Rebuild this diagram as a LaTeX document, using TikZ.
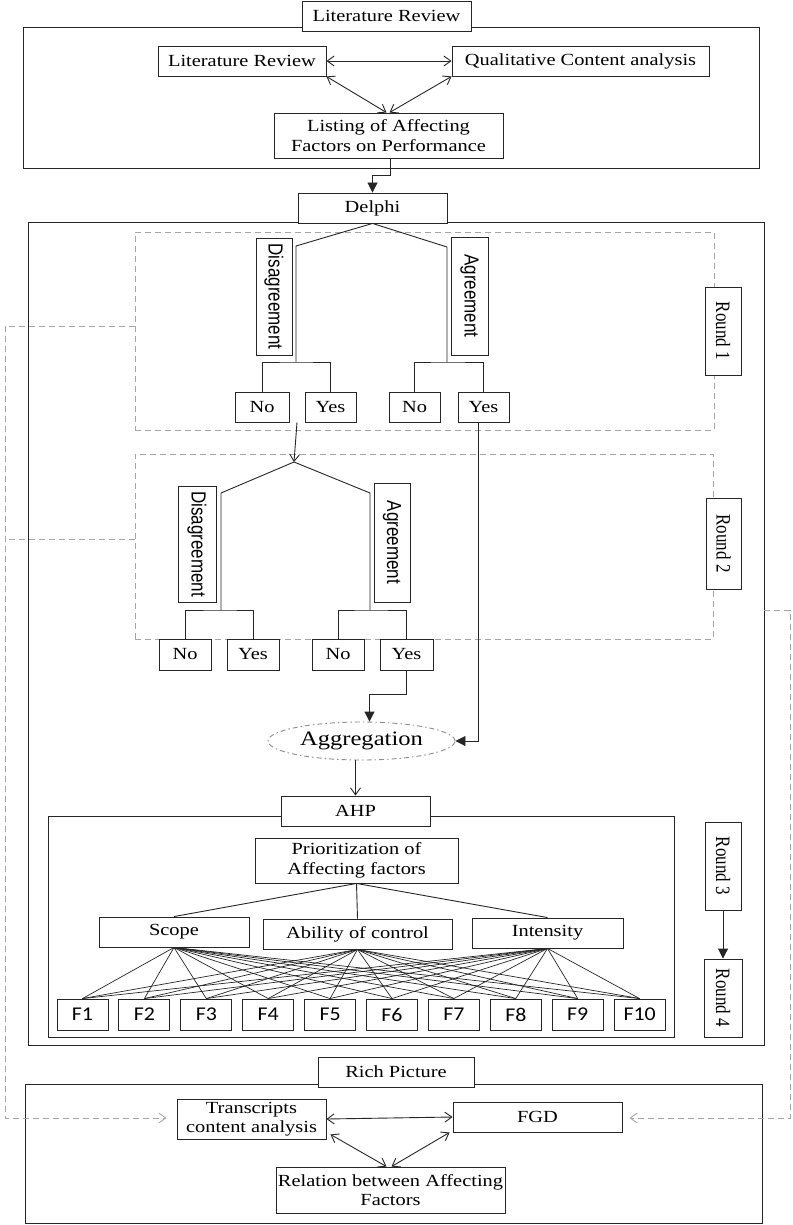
\documentclass[tikz,border=0pt]{standalone}
\usepackage{graphicx}
\usepackage{fontspec}
\setmainfont{Liberation Serif}[FakeStretch=1.2]
\newfontfamily\rotserif{Liberation Serif}
\newfontfamily\rotsans{Liberation Sans}
\newfontfamily\fsans{Carlito}[FakeStretch=1.12]
\usepackage{tikz}
\usetikzlibrary{calc}
\usetikzlibrary{arrows.meta,shapes.geometric}

\newcommand{\tallx}[1]{\scalebox{1}[1.2]{#1}}

\begin{document}
\begin{tikzpicture}[x=1pt,y=-1pt,
  font=\fontsize{17}{19.5}\selectfont,
  frame/.style={draw=black!85,line width=0.9pt,inner sep=0pt},
  box/.style={draw=black!85,line width=0.9pt,fill=white,inner sep=0pt,align=center},
  vsans/.style={box,rotate=-90,font=\rotsans\fontsize{17}{19}\selectfont},
  vserif/.style={box,rotate=-90,font=\rotserif\fontsize{17}{19}\selectfont},
  fbox/.style={box,minimum width=51pt,minimum height=31pt,font=\fsans\fontsize{19.5}{21}\selectfont},
  roundbox/.style={draw=black!35,line width=0.9pt,dash pattern=on 6pt off 4pt,inner sep=0pt},
  aggnode/.style={ellipse,draw=black!45,line width=0.9pt,dash pattern=on 5pt off 3pt on 1.5pt off 3pt,
    minimum width=187pt,minimum height=38pt,inner sep=0pt,font=\fontsize{20.5}{24}\selectfont},
  link/.style={draw=black!85,line width=0.9pt},
  openarrow/.style={-{Straight Barb[length=7pt,width=10pt]}},
  fillarrow/.style={-{Triangle[length=10pt,width=10pt]}},
  dlink/.style={link,{Straight Barb[length=7pt,width=10pt]}-{Straight Barb[length=7pt,width=10pt]}},
  dashlink/.style={draw=black!35,line width=0.9pt,dash pattern=on 6pt off 4pt}]
\useasboundingbox (0,0) rectangle (792,1225);

% Literature review block
\node[frame,minimum width=736pt,minimum height=141pt] (litbox) at (391,97.5) {};
\node[box,minimum width=169pt,minimum height=30pt] (lrtitle) at (386.5,16) {Literature Review};
\node[box,minimum width=168pt,minimum height=30pt] (litrev) at (242,61) {Literature Review};
\node[box,minimum width=257pt,minimum height=30pt] (qca) at (580.5,61) {Qualitative Content analysis};
\node[box,minimum width=229pt,minimum height=45pt] (listing) at (388.5,135.5) {Listing of Affecting\\Factors on Performance};
\draw[dlink] (litrev) -- (qca);
\draw[dlink] (litrev.south east) -- ($(listing.north)+(-2,0)$);
\draw[dlink] (qca.south west) -- ($(listing.north)+(1,0)$);

% Delphi block
\node[frame,minimum width=736pt,minimum height=823pt] (delphibox) at (396,633.5) {};
\node[box,minimum width=149pt,minimum height=30pt] (delphi) at (372.5,208) {Delphi};
\draw[link,fillarrow] ($(listing.south)+(1.5,0)$) |- ($(delphi.north)+(0,-17)$) -- (delphi.north);

% Round 1
\node[roundbox,minimum width=579pt,minimum height=198pt] (r1box) at (424.5,331) {};
\node[vsans,minimum width=117pt,minimum height=36pt] (dis1) at (274,296.5) {\tallx{Disagreement}};
\node[vsans,minimum width=118pt,minimum height=37pt] (agr1) at (469.5,296) {\tallx{Agreement}};
\coordinate (d1a) at (296,246);
\coordinate (d1b) at (296,362);
\coordinate (a1a) at (447,247);
\coordinate (a1b) at (447,362);
\draw[link] (delphi.south) -- (d1a) -- (d1b);
\draw[link] (delphi.south) -- (a1a) -- (a1b);
\node[box,minimum width=54pt,minimum height=30pt] (no1) at (262,407) {No};
\node[box,minimum width=51pt,minimum height=30pt] (yes1) at (330.5,407) {Yes};
\node[box,minimum width=51pt,minimum height=30pt] (no2) at (414.5,407) {No};
\node[box,minimum width=51pt,minimum height=30pt] (yes2) at (483.5,407) {Yes};
\draw[link] (no1.north) |- (d1b) -| (yes1.north);
\draw[link] (no2.north) |- (a1b) -| (yes2.north);
\node[vserif,minimum width=88pt,minimum height=36pt] (rd1) at (723,331) {\tallx{Round 1}};

% Round 2
\node[roundbox,minimum width=578pt,minimum height=185pt] (r2box) at (424,546.5) {};
\coordinate (r2top) at (294,462);
\draw[link,openarrow] ($(no1.south east)!0.5!(yes1.south west)$) -- (r2top);
\node[vsans,minimum width=116pt,minimum height=38pt] (dis2) at (197,544) {\tallx{Disagreement}};
\node[vsans,minimum width=119pt,minimum height=36pt] (agr2) at (392,542.5) {\tallx{Agreement}};
\coordinate (d2a) at (221,493);
\coordinate (d2b) at (221,610);
\coordinate (a2a) at (370,493);
\coordinate (a2b) at (370,610);
\draw[link] (r2top) -- (d2a) -- (d2b);
\draw[link] (r2top) -- (a2a) -- (a2b);
\node[box,minimum width=52pt,minimum height=31pt] (no3) at (185,654.5) {No};
\node[box,minimum width=52pt,minimum height=31pt] (yes3) at (253,654.5) {Yes};
\node[box,minimum width=52pt,minimum height=31pt] (no4) at (338,654.5) {No};
\node[box,minimum width=53pt,minimum height=31pt] (yes4) at (406.5,654.5) {Yes};
\draw[link] (no3.north) |- (d2b) -| (yes3.north);
\draw[link] (no4.north) |- (a2b) -| (yes4.north);
\node[vserif,minimum width=91pt,minimum height=35pt] (rd2) at (723.5,543.5) {\tallx{Round 2}};

% Aggregation
\node[aggnode] (agg) at (361.5,741) {Aggregation};
\draw[link,fillarrow] (yes4.south) |- ($(agg.north)+(8,-27)$) -- ($(agg.north)+(8,0)$);
\draw[link,fillarrow] ($(yes2.south)+(-5,0)$) |- (agg.east);

% AHP block
\node[frame,minimum width=626pt,minimum height=221pt] (ahpbox) at (361,926.5) {};
\node[box,minimum width=149pt,minimum height=30pt] (ahp) at (355.5,811) {AHP};
\draw[link,openarrow] (agg.south -| ahp.north) -- (ahp.north);
\node[box,minimum width=203pt,minimum height=45pt] (prio) at (356.5,860.5) {Prioritization of\\Affecting factors};
\node[box,minimum width=150pt,minimum height=30pt] (scope) at (174,932) {Scope};
\node[box,minimum width=189pt,minimum height=30pt] (ability) at (357.5,934) {Ability of control};
\node[box,minimum width=151pt,minimum height=30pt] (intensity) at (547.5,933) {Intensity};
\draw[link] (prio.south) -- (scope.north);
\draw[link] (prio.south) -- (ability.north);
\draw[link] (prio.south) -- (intensity.north);
\foreach \i in {1,...,10}
  \node[fbox] (f\i) at ({82.5+61.9*(\i-1)},1014.5) {F\i};
\foreach \s in {scope,ability,intensity}
  \foreach \i in {1,...,10}
    \draw[link,line width=0.7pt] (\s.south) -- (f\i.north);

% Rounds 3 and 4
\node[vserif,minimum width=88pt,minimum height=36pt] (rd3) at (723,866) {\tallx{Round 3}};
\node[vserif,minimum width=78pt,minimum height=38pt] (rd4) at (723,998) {\tallx{Round 4}};
\draw[link,fillarrow] (rd3) -- (rd4);

% Rich picture block
\node[frame,minimum width=737pt,minimum height=139pt] (richbox) at (393.5,1153.5) {};
\node[box,minimum width=156pt,minimum height=30pt] (richtitle) at (396,1072) {Rich Picture};
\node[box,minimum width=149pt,minimum height=40pt] (trans) at (251.5,1119) {Transcripts\\content analysis};
\node[box,minimum width=169pt,minimum height=30pt] (fgd) at (537.5,1117) {FGD};
\node[box,minimum width=229pt,minimum height=46pt] (relation) at (390.5,1190) {Relation between Affecting\\Factors};
\draw[dlink] (trans.east) -- (fgd.west);
\draw[dlink] ($(trans.south east)+(4,-5)$) -- ($(relation.north)+(-4,0)$);
\draw[dlink] ($(fgd.south west)+(-3,0)$) -- ($(relation.north)+(1,0)$);

% Dashed feedback lines
\coordinate (lcornera) at (5,326);
\coordinate (lcornerb) at (5,1118);
\coordinate (rcornera) at (790,610);
\coordinate (rcornerb) at (790,1118);
\draw[dashlink,openarrow] ($(r1box.west)+(0,-5)$) -- (lcornera) -- (lcornerb) -- ($(trans.west)+(-10,-1)$);
\draw[dashlink] ($(r2box.west)+(0,-7.5)$) -- (5,539);
\draw[dashlink,openarrow] ($(delphibox.east)+(0,-23.5)$) -- (rcornera) -- (rcornerb) -- ($(fgd.east)+(7,1)$);
\end{tikzpicture}
\end{document}
